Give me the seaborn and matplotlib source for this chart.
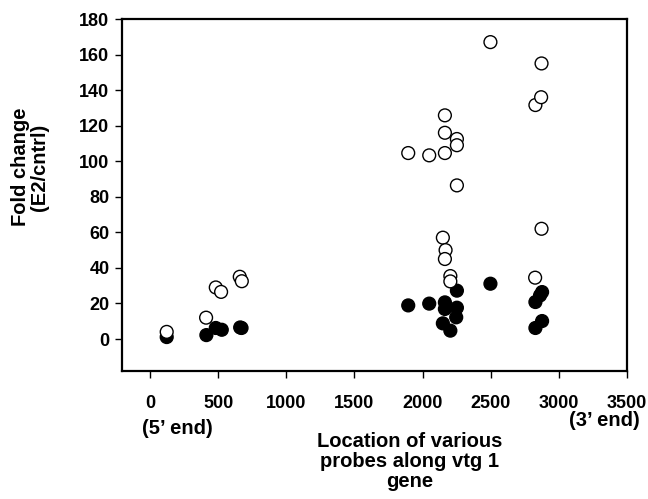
import matplotlib
matplotlib.use("Agg")
import matplotlib.pyplot as plt
import seaborn as sns
import pandas as pd

# 데이터
open_x = [123, 412, 483, 522, 659, 674, 1895, 2049, 2164, 2164, 2164, 2252, 2252,
          2252, 2149, 2169, 2164, 2204, 2204, 2498, 2828, 2870, 2873, 2873, 2826]
open_y = [4, 12, 29, 26.5, 35, 32.5, 104.6, 103.3, 104.6, 116, 125.8, 112.5, 109,
          86.4, 57, 50, 45, 35.4, 32.4, 167, 131.6, 136, 155, 62, 34.5]
filled_x = [123, 414, 483, 527, 662, 672, 1895, 2049, 2164, 2164, 2252, 2247, 2149,
            2204, 2252, 2498, 2877, 2862, 2828, 2877, 2828]
filled_y = [1.1, 2.2, 6.2, 5.2, 6.5, 6.2, 18.9, 19.9, 20.6, 16.9, 17.6, 12.2, 8.8,
            4.7, 27.2, 31.1, 26.4, 24.5, 20.8, 10.1, 6.2]
x_ticks = [0, 500, 1000, 1500, 2000, 2500, 3000, 3500]
y_ticks = [0, 20, 40, 60, 80, 100, 120, 140, 160, 180]

df = pd.concat([
    pd.DataFrame({"loc": filled_x, "fold": filled_y, "grp": "filled"}),
    pd.DataFrame({"loc": open_x, "fold": open_y, "grp": "open"}),
])

sns.set_style("ticks")
plt.rcParams["font.family"] = ["Liberation Sans", "DejaVu Sans"]
plt.rcParams["font.weight"] = "bold"
plt.rcParams["text.color"] = "black"
plt.rcParams["xtick.color"] = "black"
plt.rcParams["ytick.color"] = "black"

fig = plt.figure(figsize=(6.48, 4.99), dpi=100)
ax = fig.add_axes([122 / 648, 1 - 371 / 499, (627 - 122) / 648, (371 - 19) / 499])

sns.scatterplot(
    data=df, x="loc", y="fold", hue="grp",
    palette={"filled": "black", "open": "white"},
    edgecolor="black", linewidth=1, s=85, legend=False, ax=ax, zorder=3
)

ax.set_xlim(-205, 3500)
ax.set_ylim(-18, 180)
ax.set_xticks(x_ticks)
ax.set_yticks(y_ticks)
ax.set_xlabel("")
ax.set_ylabel("")
for sp in ax.spines.values():
    sp.set_visible(True)
    sp.set_linewidth(1.6)
    sp.set_color("black")
ax.tick_params(axis="both", direction="out", length=5, width=1, labelsize=13,
               colors="black")
ax.tick_params(axis="x", pad=12)
ax.tick_params(axis="y", pad=4)
for lab in ax.get_xticklabels() + ax.get_yticklabels():
    lab.set_fontweight("bold")

# 축 제목과 끝 표시
fig.text(30 / 648, 1 - 167 / 499, "Fold change\n(E2/cntrl)", rotation=90,
         ha="center", va="center", fontsize=14.5, fontweight="bold",
         multialignment="center", linespacing=1.0)
fig.text(410 / 648, 1 - 432 / 499, "Location of various\nprobes along vtg 1\ngene",
         ha="center", va="top", fontsize=14.5, fontweight="bold",
         multialignment="center", linespacing=1.08)
fig.text(177 / 648, 1 - 428 / 499, "(5\u2019 end)", ha="center", va="center",
         fontsize=14.5, fontweight="bold")
fig.text(604 / 648, 1 - 421 / 499, "(3\u2019 end)", ha="center", va="center",
         fontsize=14.5, fontweight="bold")

fig.savefig("out.png", dpi=100)
